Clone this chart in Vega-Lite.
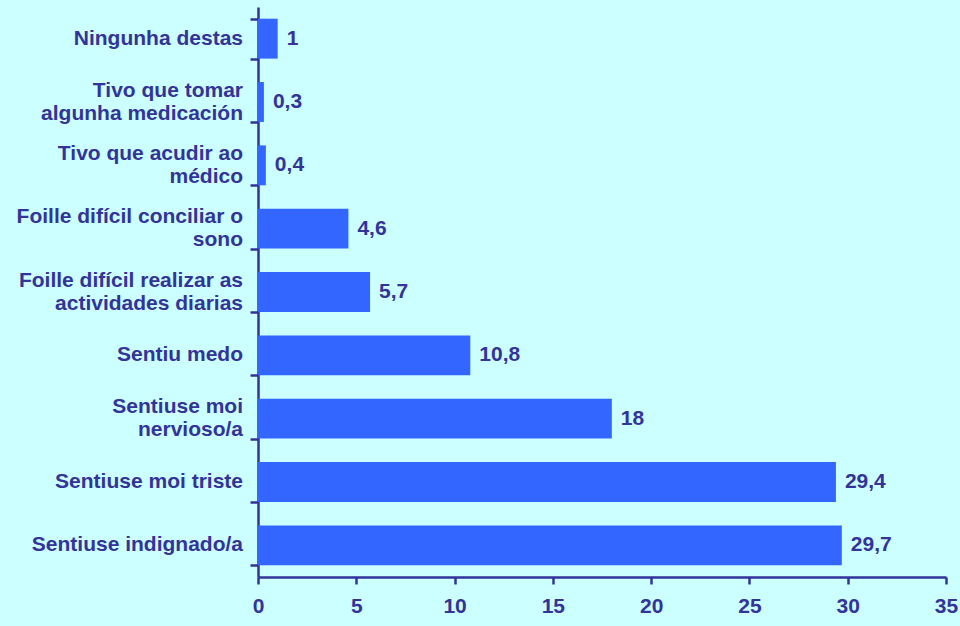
{
  "$schema": "https://vega.github.io/schema/vega-lite/v6.json",
  "width": 688,
  "height": 570,
  "autosize": {"type": "none"},
  "padding": {"left": 258, "top": 7, "right": 14, "bottom": 49},
  "background": "#CCFFFF",
  "config": {
    "view": {"stroke": null},
    "font": "Liberation Sans",
    "locale": {"number": {"decimal": ",", "thousands": ".", "grouping": [3], "currency": ["", " €"]}}
  },
  "data": {
    "values": [
      {"category": "Ningunha destas", "value": 1},
      {"category": "Tivo que tomar|algunha medicación", "value": 0.3},
      {"category": "Tivo que acudir ao|médico", "value": 0.4},
      {"category": "Foille difícil conciliar o|sono", "value": 4.6},
      {"category": "Foille difícil realizar as|actividades diarias", "value": 5.7},
      {"category": "Sentiu medo", "value": 10.8},
      {"category": "Sentiuse moi|nervioso/a", "value": 18},
      {"category": "Sentiuse moi triste", "value": 29.4},
      {"category": "Sentiuse indignado/a", "value": 29.7}
    ]
  },
  "encoding": {
    "y": {
      "field": "category",
      "type": "nominal",
      "sort": null,
      "scale": {"paddingInner": 0.37, "paddingOuter": 0.185},
      "axis": {
        "title": null,
        "tickBand": "extent",
        "labels": false,
        "tickSize": 8,
        "tickColor": "#333399",
        "tickWidth": 2.5,
        "domainColor": "#333399",
        "domainWidth": 2.5
      }
    }
  },
  "layer": [
    {
      "mark": {"type": "bar", "color": "#3366FF"},
      "encoding": {
        "x": {
          "field": "value",
          "type": "quantitative",
          "scale": {"domain": [0, 35], "nice": false},
          "axis": {
            "title": null,
            "values": [0, 5, 10, 15, 20, 25, 30, 35],
            "grid": false,
            "labelFont": "Liberation Sans",
            "labelFontWeight": "bold",
            "labelFontSize": 21,
            "labelColor": "#333399",
            "labelPadding": 11,
            "labelFlush": false,
            "tickSize": 7,
            "tickColor": "#333399",
            "tickWidth": 2.5,
            "domainColor": "#333399",
            "domainWidth": 2.5
          }
        }
      }
    },
    {
      "mark": {"type": "text", "align": "left", "baseline": "middle", "dx": 9, "fontSize": 21, "fontWeight": "bold", "color": "#333399", "font": "Liberation Sans"},
      "encoding": {
        "x": {"field": "value", "type": "quantitative"},
        "text": {"field": "value", "type": "quantitative", "format": "~g"}
      }
    },
    {
      "transform": [{"filter": "indexof(datum.category, '|') < 0"}],
      "mark": {"type": "text", "align": "right", "baseline": "middle", "dx": -15, "fontSize": 21, "fontWeight": "bold", "color": "#333399", "font": "Liberation Sans"},
      "encoding": {
        "x": {"datum": 0, "type": "quantitative"},
        "text": {"field": "category", "type": "nominal"}
      }
    },
    {
      "transform": [{"filter": "indexof(datum.category, '|') >= 0"}],
      "mark": {"type": "text", "align": "right", "baseline": "middle", "dx": -15, "dy": -11.5, "lineBreak": "|", "lineHeight": 23, "fontSize": 21, "fontWeight": "bold", "color": "#333399", "font": "Liberation Sans"},
      "encoding": {
        "x": {"datum": 0, "type": "quantitative"},
        "text": {"field": "category", "type": "nominal"}
      }
    }
  ]
}
